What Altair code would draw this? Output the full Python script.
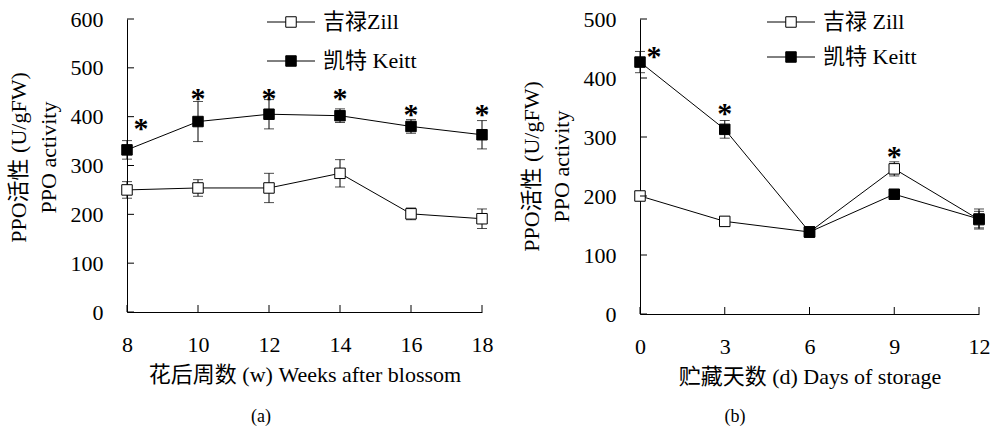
import altair as alt
import pandas as pd

FONT = "Liberation Serif, Noto Sans CJK SC"

# ---------------- data: panel (a) ----------------
weeks = [8, 10, 12, 14, 16, 18]
zill_weeks = [250, 254, 254, 284, 201, 191]
zill_weeks_err = [17, 17, 30, 28, 12, 20]
keitt_weeks = [332, 390, 405, 402, 380, 363]
keitt_weeks_err = [19, 41, 30, 14, 14, 29]
star_weeks_y = [385, 446, 446, 446, 414, 414]
star_weeks_beside = [True, False, False, False, False, False]
a_xticks = [8, 10, 12, 14, 16, 18]
a_yticks = [0, 100, 200, 300, 400, 500, 600]

# ---------------- data: panel (b) ----------------
days = [0, 3, 6, 9, 12]
zill_days = [200, 157, 139, 246, 160]
zill_days_err = [5, 8, 8, 12, 14]
keitt_days = [427, 313, 139, 203, 161]
keitt_days_err = [18, 15, 9, 5, 17]
star_days_x = [0, 3, 9]
star_days_y = [444, 347, 275]
star_days_beside = [True, False, False]
b_xticks = [0, 3, 6, 9, 12]
b_yticks = [0, 100, 200, 300, 400, 500]

ZILL_A = "吉禄Zill"
KEITT_A = "凯特 Keitt"
ZILL_B = "吉禄 Zill"
KEITT_B = "凯特 Keitt"


def long_df(xs, z, ze, k, ke):
    rows = []
    for i, x in enumerate(xs):
        rows.append(dict(series="Zill", x=x, y=z[i], lo=z[i] - ze[i], hi=z[i] + ze[i]))
    for i, x in enumerate(xs):
        rows.append(dict(series="Keitt", x=x, y=k[i], lo=k[i] - ke[i], hi=k[i] + ke[i]))
    return pd.DataFrame(rows)


def panel(df, stars, xdom, xticks, ydom, yticks, W, H, xtitle,
          leg_labels, leg_x0, leg_rows, caption, cap_x, cap_y, title_y):
    xscale = alt.Scale(domain=xdom, nice=False, zero=False)
    yscale = alt.Scale(domain=ydom, nice=False)
    xaxis = alt.Axis(values=xticks, ticks=False, grid=False, labelFontSize=22,
                     labelFont=FONT, labelPadding=22, labelColor="black",
                     domainColor="black", title=xtitle, titleFont=FONT,
                     titleFontSize=22, titleFontWeight="normal",
                     titleColor="black", titlePadding=9, labelFlush=False)
    yaxis = alt.Axis(values=yticks, ticks=False, grid=False, labelFontSize=22,
                     labelFont=FONT, labelPadding=24, labelColor="black",
                     domainColor="black", title=["PPO活性 (U/gFW)", "PPO activity"],
                     titleFont=FONT, titleFontSize=22, titleFontWeight="normal",
                     titleColor="black", titleLineHeight=30, titlePadding=10,
                     titleAngle=270, titleY=title_y)

    def X(f):
        return alt.X(f, type="quantitative", scale=xscale, axis=xaxis)

    def Y(f):
        return alt.Y(f, type="quantitative", scale=yscale, axis=yaxis)

    base = alt.Chart(df)
    fill_scale = alt.Scale(domain=["Zill", "Keitt"], range=["white", "black"])

    lines = base.mark_line(color="black", strokeWidth=1).encode(
        x=X("x"), y=Y("y"), detail="series:N")
    bars = base.mark_rule(color="black", strokeWidth=1).encode(
        x=X("x"), y=Y("lo"), y2="hi")
    caps_lo = base.mark_tick(orient="horizontal", color="black", size=10,
                             thickness=1).encode(x=X("x"), y=Y("lo"))
    caps_hi = base.mark_tick(orient="horizontal", color="black", size=10,
                             thickness=1).encode(x=X("x"), y=Y("hi"))
    pts = base.mark_square(size=110, stroke="black", strokeWidth=1,
                           opacity=1).encode(
        x=X("x"), y=Y("y"),
        fill=alt.Fill("series:N", scale=fill_scale, legend=None))

    sdf = alt.Chart(stars)
    star_above = sdf.transform_filter("!datum.beside").mark_text(
        text="*", font=FONT, fontSize=30, fontWeight="bold", color="black",
        baseline="alphabetic", dy=14).encode(x=X("x"), y=Y("y"))
    star_side = sdf.transform_filter("datum.beside").mark_text(
        text="*", font=FONT, fontSize=30, fontWeight="bold", color="black",
        baseline="alphabetic", dy=14, dx=14).encode(x=X("x"), y=Y("y"))

    xt = alt.Chart(pd.DataFrame({"x": xticks})).mark_rule(
        color="black", strokeWidth=1).encode(
        x=X("x"), y=alt.value(H), y2=alt.value(H - 7))
    yt = alt.Chart(pd.DataFrame({"y": yticks})).mark_rule(
        color="black", strokeWidth=1).encode(
        y=Y("y"), x=alt.value(0), x2=alt.value(7))

    legend_layers = []
    fills = ["white", "black"]
    for i, lab in enumerate(leg_labels):
        ly = leg_rows[i]
        legend_layers.append(alt.Chart(pd.DataFrame({"a": [0]})).mark_rule(
            color="black", strokeWidth=1).encode(
            x=alt.value(leg_x0), x2=alt.value(leg_x0 + 48), y=alt.value(ly)))
        legend_layers.append(alt.Chart(pd.DataFrame({"a": [0]})).mark_square(
            size=110, stroke="black", strokeWidth=1, fill=fills[i], opacity=1).encode(
            x=alt.value(leg_x0 + 24), y=alt.value(ly)))
        legend_layers.append(alt.Chart(pd.DataFrame({"a": [0]})).mark_text(
            text=lab, font=FONT, fontSize=22, align="left", baseline="middle",
            color="black").encode(x=alt.value(leg_x0 + 56), y=alt.value(ly)))

    cap = alt.Chart(pd.DataFrame({"a": [0]})).mark_text(
        text=caption, font=FONT, fontSize=18, color="black",
        baseline="middle").encode(x=alt.value(cap_x), y=alt.value(cap_y))

    return alt.layer(lines, bars, caps_lo, caps_hi, pts, star_above, star_side,
                     xt, yt, *legend_layers, cap).properties(width=W, height=H)


df_a = long_df(weeks, zill_weeks, zill_weeks_err, keitt_weeks, keitt_weeks_err)
stars_a = pd.DataFrame({"x": weeks, "y": star_weeks_y, "beside": star_weeks_beside})
df_b = long_df(days, zill_days, zill_days_err, keitt_days, keitt_days_err)
stars_b = pd.DataFrame({"x": star_days_x, "y": star_days_y, "beside": star_days_beside})

pa = panel(df_a, stars_a, [8, 18], a_xticks, [0, 600], a_yticks, 355, 293,
           "花后周数 (w) Weeks after blossom", [ZILL_A, KEITT_A], 140, [3, 42],
           "(a)", 134, 398, 138)
pb = panel(df_b, stars_b, [0, 12], b_xticks, [0, 500], b_yticks, 339, 295,
           "贮藏天数 (d)  Days of storage", [ZILL_B, KEITT_B], 127, [3, 38],
           "(b)", 95, 398, 147)

chart = alt.hconcat(pa, pb, spacing=26).properties(
    padding={"left": 6, "top": 8, "right": 0, "bottom": 0},
    background="white",
).configure_view(stroke=None)

chart.save("out.html", embed_options={"renderer": "svg", "actions": False})
